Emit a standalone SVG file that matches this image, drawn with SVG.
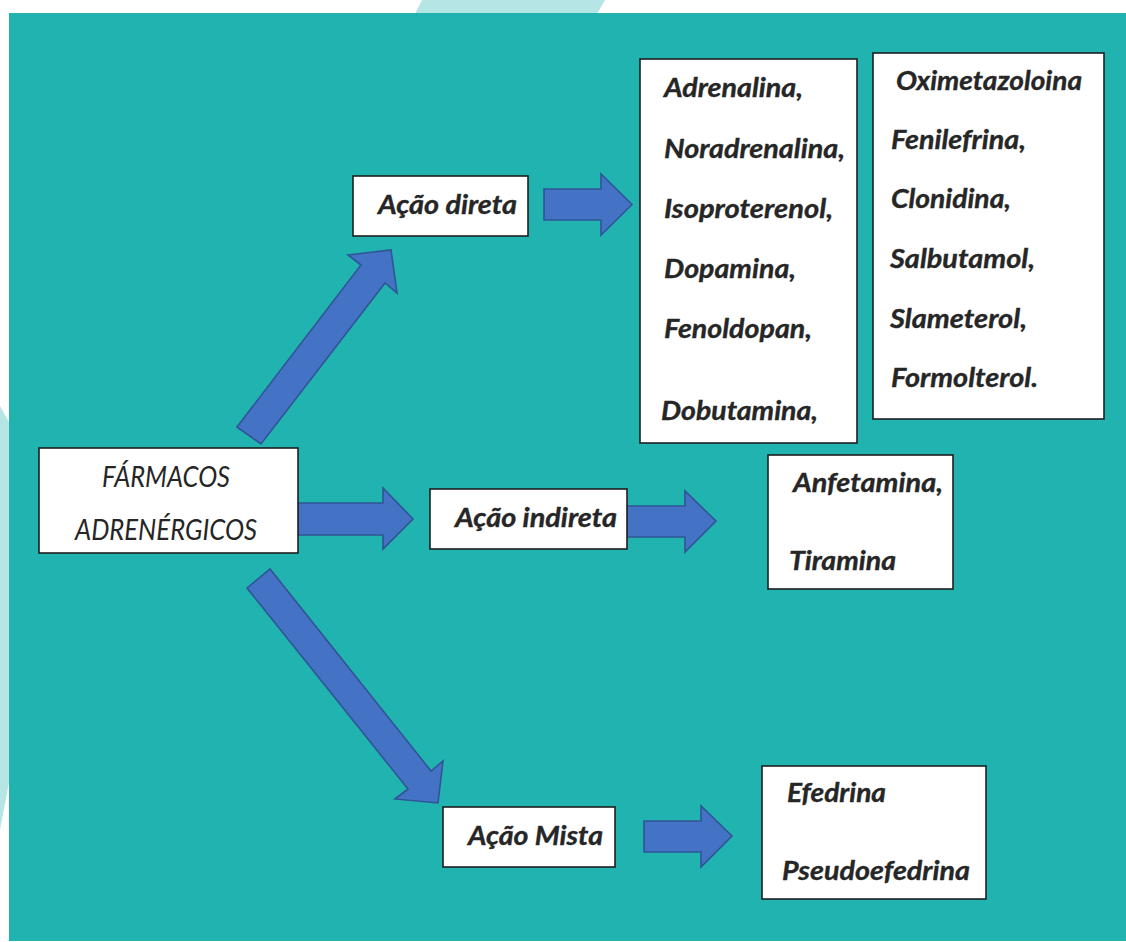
<svg xmlns="http://www.w3.org/2000/svg" width="1126" height="942" viewBox="0 0 1126 942">
  <defs>
    <style>
      .panel { fill: #21b3b0; }
      .halo { fill: #b5e5e4; }
      .box { fill: #ffffff; stroke: #1f1f1f; stroke-width: 1.6; }
      .arrow { fill: #4472c4; stroke: #2f5597; stroke-width: 1.6; stroke-linejoin: miter; }
      .lbl { font-family: Lato, "Open Sans", "Liberation Sans", sans-serif; font-style: italic; font-weight: 700; font-size: 26px; fill: #262626; stroke: #262626; stroke-width: 0.35; }
      .title { font-family: Lato, "Open Sans", "Liberation Sans", sans-serif; font-style: italic; font-weight: 400; font-size: 28px; fill: #262626; }
    </style>
  </defs>

  <!-- page background -->
  <rect x="0" y="0" width="1126" height="942" fill="#ffffff"/>
  <polygon class="halo" points="422,0 605,0 597,14 415,14"/>
  <polygon class="halo" points="0,406 10,424 10,777 0,830"/>
  <rect class="panel" x="9" y="13" width="1117" height="928"/>

  <!-- block arrows -->
  <g id="connectors">
    <polygon class="arrow" points="237,427 361,265 348,255 391,250 397,293 385,283 261,444"/>
    <polygon class="arrow" points="298,503 383,503 383,488 413,519 383,549 383,535 298,535"/>
    <polygon class="arrow" points="247,588 270,569 431,771 443,761 438,803 395,799 408,789"/>
    <polygon class="arrow" points="544,189 601,189 601,174 632,204.5 601,235 601,220 544,220"/>
    <polygon class="arrow" points="627,506 685,506 685,491 716,521 685,552 685,537 627,537"/>
    <polygon class="arrow" points="644,821 701,821 701,806 732,836 701,867 701,852 644,852"/>
  </g>

  <g id="farmacos">
    <rect class="box" x="39" y="448" width="259" height="105"/>
    <text class="title" x="102" y="487" textLength="128" lengthAdjust="spacingAndGlyphs">FÁRMACOS</text>
    <text class="title" x="75" y="540" textLength="182" lengthAdjust="spacingAndGlyphs">ADRENÉRGICOS</text>
  </g>

  <g id="acao-direta">
    <rect class="box" x="353" y="176" width="175" height="60"/>
    <text class="lbl" x="378" y="214" textLength="139" lengthAdjust="spacingAndGlyphs">Ação direta</text>
  </g>

  <g id="acao-indireta">
    <rect class="box" x="430" y="489" width="197" height="60"/>
    <text class="lbl" x="455" y="527" textLength="162" lengthAdjust="spacingAndGlyphs">Ação indireta</text>
  </g>

  <g id="acao-mista">
    <rect class="box" x="443" y="807" width="172" height="60"/>
    <text class="lbl" x="468" y="845" textLength="135" lengthAdjust="spacingAndGlyphs">Ação Mista</text>
  </g>

  <g id="diretos-1">
    <rect class="box" x="640" y="59" width="217" height="384"/>
    <text class="lbl" x="664" y="97" textLength="139" lengthAdjust="spacingAndGlyphs">Adrenalina,</text>
    <text class="lbl" x="664" y="158" textLength="181" lengthAdjust="spacingAndGlyphs">Noradrenalina,</text>
    <text class="lbl" x="664" y="218" textLength="169" lengthAdjust="spacingAndGlyphs">Isoproterenol,</text>
    <text class="lbl" x="664" y="278" textLength="132" lengthAdjust="spacingAndGlyphs">Dopamina,</text>
    <text class="lbl" x="664" y="338" textLength="148" lengthAdjust="spacingAndGlyphs">Fenoldopan,</text>
    <text class="lbl" x="661" y="420" textLength="157" lengthAdjust="spacingAndGlyphs">Dobutamina,</text>
  </g>

  <g id="diretos-2">
    <rect class="box" x="873" y="53" width="231" height="366"/>
    <text class="lbl" x="896" y="90" textLength="186" lengthAdjust="spacingAndGlyphs">Oximetazoloina</text>
    <text class="lbl" x="891" y="149" textLength="135" lengthAdjust="spacingAndGlyphs">Fenilefrina,</text>
    <text class="lbl" x="891" y="208" textLength="120" lengthAdjust="spacingAndGlyphs">Clonidina,</text>
    <text class="lbl" x="890" y="268" textLength="145" lengthAdjust="spacingAndGlyphs">Salbutamol,</text>
    <text class="lbl" x="890" y="328" textLength="137" lengthAdjust="spacingAndGlyphs">Slameterol,</text>
    <text class="lbl" x="891" y="387" textLength="147" lengthAdjust="spacingAndGlyphs">Formolterol.</text>
  </g>

  <g id="indiretos">
    <rect class="box" x="768" y="455" width="185" height="134"/>
    <text class="lbl" x="793" y="492" textLength="150" lengthAdjust="spacingAndGlyphs">Anfetamina,</text>
    <text class="lbl" x="789" y="570" textLength="107" lengthAdjust="spacingAndGlyphs">Tiramina</text>
  </g>

  <g id="mistos">
    <rect class="box" x="762" y="766" width="224" height="133"/>
    <text class="lbl" x="787" y="802" textLength="99" lengthAdjust="spacingAndGlyphs">Efedrina</text>
    <text class="lbl" x="782" y="880" textLength="188" lengthAdjust="spacingAndGlyphs">Pseudoefedrina</text>
  </g>
</svg>
